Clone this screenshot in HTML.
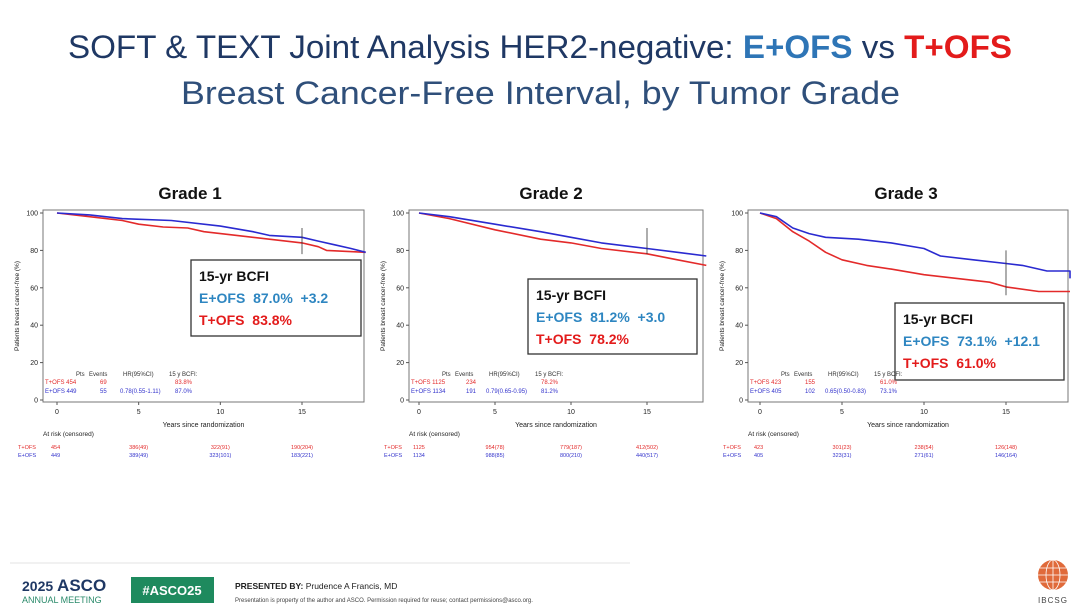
<!DOCTYPE html>
<html><head><meta charset="utf-8"><style>
body{margin:0;background:#fff;}
svg{display:block;font-family:"Liberation Sans",sans-serif;}
</style></head><body>
<svg id="s" width="1080" height="608" viewBox="0 0 1080 608" xmlns="http://www.w3.org/2000/svg">
<text x="68" y="58" font-size="32" fill="#1f3864" textLength="944" lengthAdjust="spacingAndGlyphs">SOFT &amp; TEXT Joint Analysis HER2-negative: <tspan fill="#2e75b6" font-weight="bold">E+OFS</tspan> vs <tspan fill="#e31b1b" font-weight="bold">T+OFS</tspan></text>
<text x="181" y="104" font-size="32" fill="#2f4f7a" textLength="719" lengthAdjust="spacingAndGlyphs">Breast Cancer-Free Interval, by Tumor Grade</text>
<g font-weight="bold" font-size="17" text-anchor="middle" fill="#111">
<text x="190" y="199">Grade 1</text><text x="551" y="199">Grade 2</text><text x="906" y="199">Grade 3</text>
</g>
<line x1="10" y1="563" x2="630" y2="563" stroke="#e3e3e3" stroke-width="1"/>
<text x="22" y="591" font-size="14" fill="#1f3864" font-weight="bold">2025 <tspan font-size="17">ASCO</tspan></text>
<text x="22" y="603" font-size="9" fill="#2a8a6a">ANNUAL MEETING</text>
<rect x="131" y="577" width="83" height="26" fill="#1e8a5e"/>
<text x="172" y="595" font-size="13" fill="#fff" font-weight="bold" text-anchor="middle">#ASCO25</text>
<text x="235" y="589" font-size="8.5" fill="#222"><tspan font-weight="bold">PRESENTED BY:</tspan> Prudence A Francis, MD</text>
<text x="235" y="602" font-size="6" fill="#444">Presentation is property of the author and ASCO. Permission required for reuse; contact permissions@asco.org.</text>
<circle cx="1053" cy="575" r="15" fill="#e06a3a"/>
<g stroke="#fff" stroke-width="0.8" fill="none"><ellipse cx="1053" cy="575" rx="7" ry="15"/><line x1="1038" y1="575" x2="1068" y2="575"/><line x1="1053" y1="560" x2="1053" y2="590"/><line x1="1040" y1="568" x2="1066" y2="568"/><line x1="1040" y1="582" x2="1066" y2="582"/></g>
<text x="1053" y="603" font-size="8" fill="#444" text-anchor="middle" letter-spacing="1">IBCSG</text>
<g id="g"></g>
</svg>
<script>
const P=[
{L:43,R:364,x0:57,x15:302,box:[191,260,170,76],v:["87.0%","+3.2","83.8%"],
 st:["454","69","","83.8%","449","55","0.78(0.55-1.11)","87.0%"],
 ar:[["454","386(49)","322(91)","190(204)"],["449","389(49)","323(101)","183(221)"]],
 b:[[0,100],[2,99],[4,97],[7,96],[10,93],[12,90],[13,88],[15,87],[16,85],[17,83],[18,81],[18.9,79]],
 r:[[0,100],[2,98],[4,96],[5,94],[6.5,92.5],[8,92],[9,90],[11,88],[13,86],[15,84],[16,82],[16.5,80],[18.9,79]]},
{L:409,R:703,x0:419,x15:647,box:[528,279,169,75],v:["81.2%","+3.0","78.2%"],
 st:["1125","234","","78.2%","1134","191","0.79(0.65-0.95)","81.2%"],
 ar:[["1125","954(78)","779(187)","412(502)"],["1134","988(85)","800(210)","440(517)"]],
 b:[[0,100],[2,98],[5,94],[8,90],[10,87],[12,84],[15,81],[17,79],[18.9,77]],
 r:[[0,100],[2,97],[5,91],[8,86],[10,84],[12,81],[15,78.2],[17,75],[18.9,72]]},
{L:748,R:1068,x0:760,x15:1006,box:[895,303,169,77],v:["73.1%","+12.1","61.0%"],
 st:["423","155","","61.0%","405","102","0.65(0.50-0.83)","73.1%"],
 ar:[["423","301(23)","238(54)","126(148)"],["405","323(31)","271(61)","146(164)"]],
 b:[[0,100],[1,98],[2,92],[3,89],[4,87],[6,86],[8,84],[10,81],[11,77],[13,75],[15,73],[16,72],[17.5,69],[18.9,69],[18.9,65]],
 r:[[0,100],[1,97],[2,90],[3,85],[4,79],[5,75],[6.5,72],[8,70],[10,67],[12,65],[14,63],[15,60.5],[17,58],[18.9,58]]}];
let h="";const T=210,B=402,Y100=213,Y0=400;
const yy=v=>Y0-(Y0-Y100)*v/100;
P.forEach(p=>{const k=(p.x15-p.x0)/15,xx=t=>p.x0+k*t;
h+=`<rect x="${p.L}" y="${T}" width="${p.R-p.L}" height="${B-T}" fill="none" stroke="#777" stroke-width="1"/>`;
for(let v=0;v<=100;v+=20){h+=`<line x1="${p.L-3}" x2="${p.L}" y1="${yy(v)}" y2="${yy(v)}" stroke="#555"/><text x="${p.L-5}" y="${yy(v)+2.5}" font-size="7" text-anchor="end" fill="#222">${v}</text>`;}
[0,5,10,15].forEach(t=>{h+=`<line x1="${xx(t)}" x2="${xx(t)}" y1="${B}" y2="${B+3}" stroke="#555"/><text x="${xx(t)}" y="${B+12}" font-size="7" text-anchor="middle" fill="#222">${t}</text>`;});
h+=`<text x="${(p.L+p.R)/2}" y="${B+25}" font-size="7" text-anchor="middle" fill="#222">Years since randomization</text>`;
h+=`<text transform="translate(${p.L-24},${(T+B)/2}) rotate(-90)" font-size="6.5" text-anchor="middle" fill="#222">Patients breast cancer-free (%)</text>`;
const path=(a,c)=>{let d="";a.forEach((q,i)=>{d+=(i?"L":"M")+`${xx(q[0]).toFixed(1)},${yy(q[1]).toFixed(1)}`;});h+=`<path d="${d}" fill="none" stroke="${c}" stroke-width="1.6" stroke-linejoin="round"/>`;};
path(p.r,"#e32a2a");path(p.b,"#2a2ad0");
h+=`<line x1="${xx(15)}" x2="${xx(15)}" y1="${yy(p===P[2]?80:92)}" y2="${yy(p===P[2]?56:78)}" stroke="#333" stroke-width="0.8"/>`;
const [bx,by,bw,bh]=p.box;
h+=`<rect x="${bx}" y="${by}" width="${bw}" height="${bh}" fill="#fff" stroke="#333" stroke-width="1.3"/>`;
h+=`<text x="${bx+8}" y="${by+21}" font-size="14" font-weight="bold" fill="#111">15-yr BCFI</text>`;
h+=`<text x="${bx+8}" y="${by+43}" font-size="14" font-weight="bold" fill="#2e86c1">E+OFS&#160;&#160;${p.v[0]}&#160;&#160;${p.v[1]}</text>`;
h+=`<text x="${bx+8}" y="${by+65}" font-size="14" font-weight="bold" fill="#e31b1b">T+OFS&#160;&#160;${p.v[2]}</text>`;
const sx=p.L+2;
h+=`<g font-size="6" fill="#333"><text x="${sx+31}" y="376">Pts</text><text x="${sx+44}" y="376">Events</text><text x="${sx+78}" y="376">HR(95%CI)</text><text x="${sx+124}" y="376">15 y BCFI:</text></g>`;
[[384,"#e32a2a","T+OFS",0],[393,"#3333cc","E+OFS",4]].forEach(r=>{const s=p.st;const o=r[3];
h+=`<g font-size="6" fill="${r[1]}"><text x="${sx}" y="${r[0]}">${r[2]} ${s[o]}</text><text x="${sx+55}" y="${r[0]}">${s[o+1]}</text><text x="${sx+75}" y="${r[0]}">${s[o+2]}</text><text x="${sx+130}" y="${r[0]}">${s[o+3]}</text></g>`;});
h+=`<text x="${p.L}" y="436" font-size="6.5" fill="#222">At risk (censored)</text>`;
[[449,"#e32a2a","T+OFS",0],[457,"#3333cc","E+OFS",1]].forEach(r=>{h+=`<g font-size="5.5" fill="${r[1]}"><text x="${p.L-25}" y="${r[0]}">${r[2]}</text>`;p.ar[r[3]].forEach((n,i)=>{h+=`<text x="${i==0?p.x0-6:xx(i*5)}" y="${r[0]}" ${i==0?'':'text-anchor="middle"'}>${n}</text>`;});h+=`</g>`;});
});
document.getElementById("g").innerHTML=h;
</script>
</body></html>
